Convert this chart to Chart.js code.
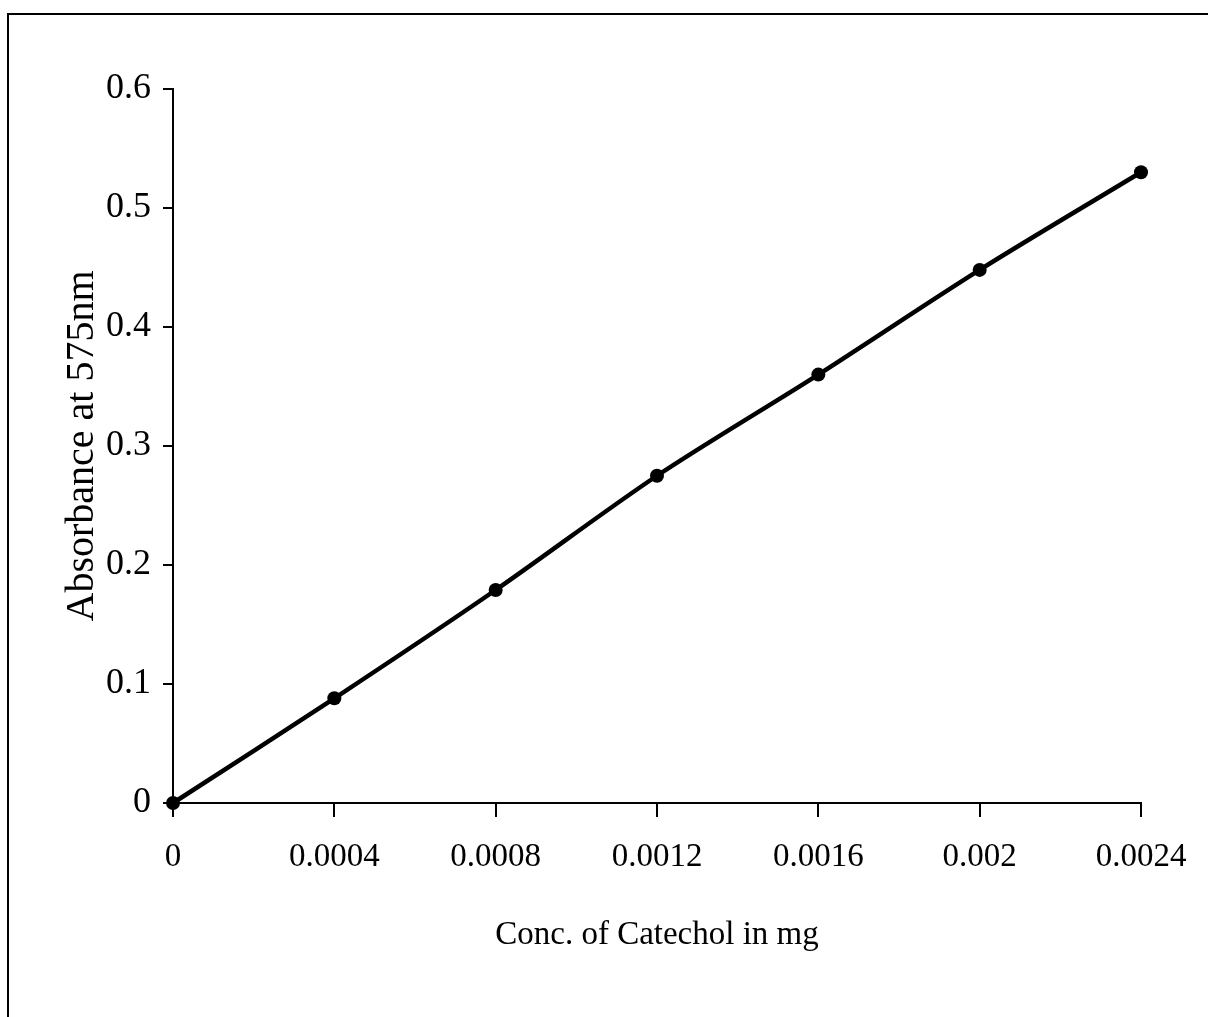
<!DOCTYPE html>
<html>
<head>
<meta charset="utf-8">
<script src="https://cdn.jsdelivr.net/npm/chart.js@4"></script>
<style>
  html, body { margin: 0; padding: 0; background: #fff; overflow: hidden; }
  #frame {
    position: absolute; left: 7px; top: 13px; width: 1300px; height: 1100px;
    border-left: 2px solid #000; border-top: 2px solid #000;
  }
  #wrap { position: absolute; left: 0; top: 0; width: 1208px; height: 1017px; }
</style>
</head>
<body>
<div id="frame"></div>
<div id="wrap"><canvas id="chart" width="1208" height="1017"></canvas></div>
<script>
// ----- Data -----
const concValues = [0, 0.0004, 0.0008, 0.0012, 0.0016, 0.002, 0.0024];
const absorbance = [0, 0.088, 0.179, 0.275, 0.36, 0.448, 0.53];
const xTickValues = [0, 0.0004, 0.0008, 0.0012, 0.0016, 0.002, 0.0024];
const xTickLabels = ["0", "0.0004", "0.0008", "0.0012", "0.0016", "0.002", "0.0024"];
const yTickLabels = ["0", "0.1", "0.2", "0.3", "0.4", "0.5", "0.6"];

const serif = "'Liberation Serif', 'Times New Roman', serif";

const ctx = document.getElementById("chart").getContext("2d");
new Chart(ctx, {
  type: "scatter",
  data: {
    datasets: [{
      label: "Absorbance",
      data: concValues.map((x, i) => ({ x: x, y: absorbance[i] })),
      showLine: true,
      borderColor: "#000",
      backgroundColor: "#000",
      borderWidth: 4.5,
      pointRadius: 7,
      pointBorderWidth: 0,
      tension: 0.3,
      clip: false
    }]
  },
  options: {
    responsive: false,
    animation: false,
    layout: { padding: { left: 0, top: 89, right: 67, bottom: 0 } },
    plugins: { legend: { display: false }, tooltip: { enabled: false } },
    scales: {
      x: {
        type: "linear",
        min: 0,
        max: 0.0024,
        afterFit: (scale) => { scale.height = 214; },
        afterBuildTicks: (scale) => {
          scale.ticks = xTickValues.map(v => ({ value: v }));
        },
        ticks: {
          color: "#000",
          font: { family: serif, size: 33 },
          padding: 21,
          maxRotation: 0,
          autoSkip: false,
          callback: (v) => {
            const i = xTickValues.findIndex(t => Math.abs(t - v) < 1e-9);
            return i >= 0 ? xTickLabels[i] : "";
          }
        },
        grid: { drawOnChartArea: false, drawTicks: true, tickLength: 14, color: "#000", lineWidth: 2 },
        border: { color: "#000", width: 2 },
        title: {
          display: true,
          text: "Conc. of Catechol in mg",
          color: "#000",
          font: { family: serif, size: 33 },
          padding: { top: 0, bottom: 62 }
        }
      },
      y: {
        min: 0,
        max: 0.6,
        afterFit: (scale) => { scale.width = 173; },
        ticks: {
          stepSize: 0.1,
          color: "#000",
          font: { family: serif, size: 36 },
          padding: 12,
          callback: (v) => yTickLabels[Math.round(v * 10)]
        },
        grid: { drawOnChartArea: false, drawTicks: true, tickLength: 10, color: "#000", lineWidth: 2 },
        border: { color: "#000", width: 2 },
        title: {
          display: true,
          text: "Absorbance at 575nm",
          color: "#000",
          font: { family: serif, size: 40 },
          padding: { top: 58, bottom: 0 }
        }
      }
    }
  }
});
</script>
</body>
</html>
